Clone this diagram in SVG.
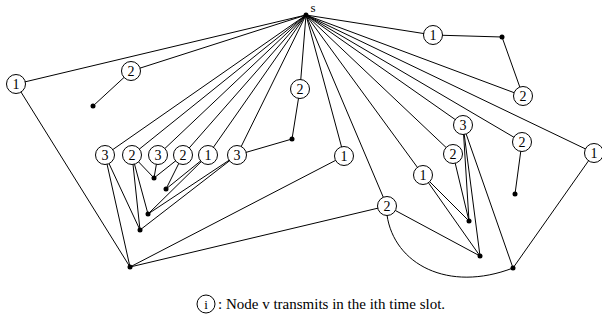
<svg xmlns="http://www.w3.org/2000/svg" width="602" height="320" viewBox="0 0 602 320">
<style>
.e{stroke:#000;stroke-width:1;fill:none}
.c{fill:#fff;stroke:#000;stroke-width:1}
.t{font-family:"Liberation Serif","Times New Roman",serif;font-size:14px;text-anchor:middle;fill:#000}
.d{fill:#000}
.lg{font-family:"Liberation Serif","Times New Roman",serif;font-size:15px;fill:#000}
</style>
<rect width="602" height="320" fill="#fff"/>
<g id="connectors">
<path class="e" d="M306,15L16,84M306,15L131,71M306,15L105,155M306,15L132,155M306,15L158,155M306,15L183,155M306,15L208,155M306,15L237,155M306,15L300,89M306,15L344,156M306,15L387,206M306,15L423,175M306,15L453,154M306,15L463,125M306,15L522,142M306,15L523,96M306,15L433,35M306,15L594,153"/>
<path class="e" d="M16,84L130,267M131,71L93,106M300,89L292,139L237,155M344,156L130,267M387,206L130,267M387,206L480,256M423,175L469,221M423,175L480,256M453,154L469,221M463,125L469,221M463,125L480,256M463,125L513,268M522,142L515,194M594,153L513,268M433,35L502,37L523,96"/>
<path class="e" d="M105,155L140,230M105,155L130,267M132,155L154,178M132,155L148,214M132,155L140,230M158,155L154,178M183,155L154,178M183,155L166,189M208,155L166,189M208,155L148,214M237,155L148,214M237,155L140,230"/>
<path class="e" d="M387,215C394,264 448,293 513,268"/>
</g>
<g id="s"><circle class="d" cx="306" cy="15" r="2.5"/><text class="t" x="313" y="12" style="font-size:13px">s</text></g>
<g id="n1"><circle class="c" cx="16" cy="84" r="9.5"/><text class="t" x="16" y="89">1</text></g>
<g id="n2"><circle class="c" cx="131" cy="71" r="9.5"/><text class="t" x="131" y="76">2</text></g>
<g id="n3"><circle class="c" cx="105" cy="155" r="9.5"/><text class="t" x="105" y="160">3</text></g>
<g id="n4"><circle class="c" cx="132" cy="155" r="9.5"/><text class="t" x="132" y="160">2</text></g>
<g id="n5"><circle class="c" cx="158" cy="155" r="9.5"/><text class="t" x="158" y="160">3</text></g>
<g id="n6"><circle class="c" cx="183" cy="155" r="9.5"/><text class="t" x="183" y="160">2</text></g>
<g id="n7"><circle class="c" cx="208" cy="155" r="9.5"/><text class="t" x="208" y="160">1</text></g>
<g id="n8"><circle class="c" cx="237" cy="155" r="9.5"/><text class="t" x="237" y="160">3</text></g>
<g id="n9"><circle class="c" cx="300" cy="89" r="9.5"/><text class="t" x="300" y="94">2</text></g>
<g id="n10"><circle class="c" cx="344" cy="156" r="9.5"/><text class="t" x="344" y="161">1</text></g>
<g id="n11"><circle class="c" cx="387" cy="206" r="9.5"/><text class="t" x="387" y="211">2</text></g>
<g id="n12"><circle class="c" cx="423" cy="175" r="9.5"/><text class="t" x="423" y="180">1</text></g>
<g id="n13"><circle class="c" cx="453" cy="154" r="9.5"/><text class="t" x="453" y="159">2</text></g>
<g id="n14"><circle class="c" cx="463" cy="125" r="9.5"/><text class="t" x="463" y="130">3</text></g>
<g id="n15"><circle class="c" cx="522" cy="142" r="9.5"/><text class="t" x="522" y="147">2</text></g>
<g id="n16"><circle class="c" cx="594" cy="153" r="9.5"/><text class="t" x="594" y="158">1</text></g>
<g id="n17"><circle class="c" cx="433" cy="35" r="9.5"/><text class="t" x="433" y="40">1</text></g>
<g id="n18"><circle class="c" cx="523" cy="96" r="9.5"/><text class="t" x="523" y="101">2</text></g>
<g id="dots">
<circle class="d" cx="93" cy="106" r="2.5"/>
<circle class="d" cx="292" cy="139" r="2.5"/>
<circle class="d" cx="502" cy="37" r="2.5"/>
<circle class="d" cx="515" cy="194" r="2.5"/>
<circle class="d" cx="154" cy="178" r="2.5"/>
<circle class="d" cx="166" cy="189" r="2.5"/>
<circle class="d" cx="148" cy="214" r="2.5"/>
<circle class="d" cx="140" cy="230" r="2.5"/>
<circle class="d" cx="130" cy="267" r="2.5"/>
<circle class="d" cx="469" cy="221" r="2.5"/>
<circle class="d" cx="480" cy="256" r="2.5"/>
<circle class="d" cx="513" cy="268" r="2.5"/>
</g>
<g id="legend"><circle class="c" cx="206" cy="304" r="9"/><text class="t" x="206" y="308.5" style="font-size:13px">i</text><text class="lg" x="218" y="309">: Node v transmits in the ith time slot.</text></g>
</svg>
